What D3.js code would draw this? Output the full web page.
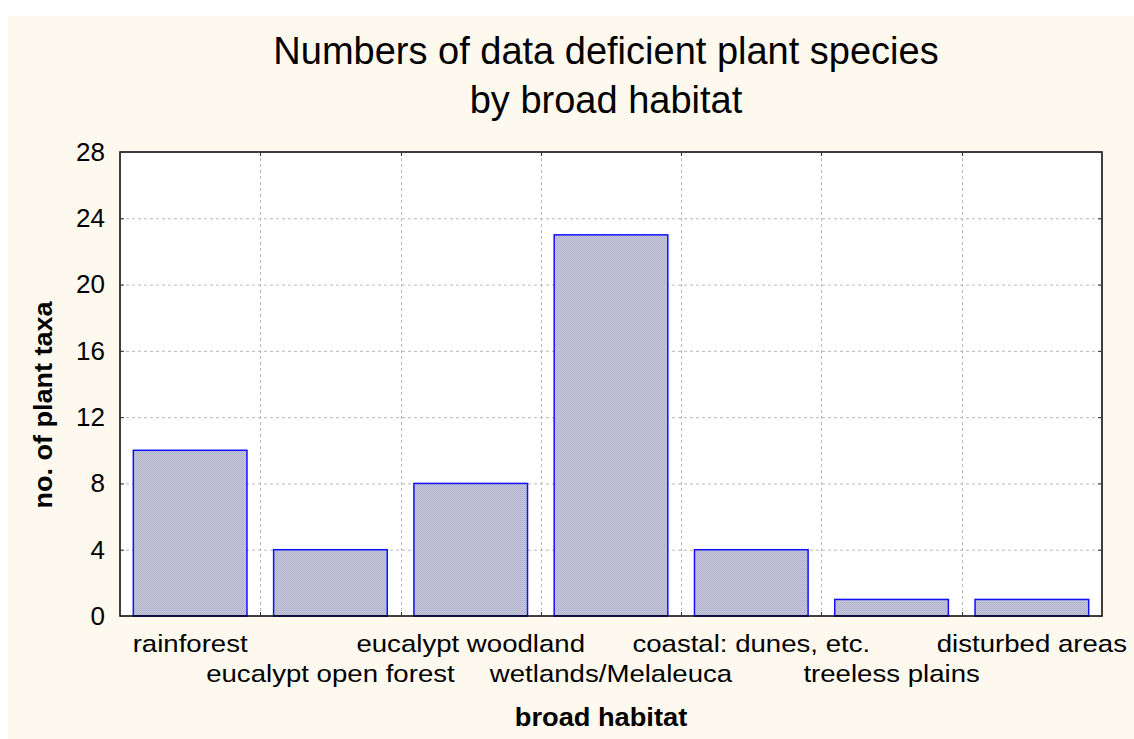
<!DOCTYPE html>
<html><head><meta charset="utf-8">
<script src="https://cdn.jsdelivr.net/npm/d3@7"></script>
<style>body{margin:0;background:#fff}svg{display:block}</style>
</head><body>
<script>
const categories = ["rainforest","eucalypt open forest","eucalypt woodland","wetlands/Melaleuca","coastal: dunes, etc.","treeless plains","disturbed areas"];
const values = [10,4,8,23,4,1,1];
const yTicks = [0,4,8,12,16,20,24,28];
const titleLines = ["Numbers of data deficient plant species","by broad habitat"];
const xTitle = "broad habitat";
const yTitle = "no. of plant taxa";

const W=1134,H=739;
const m={l:120,t:152,r:1102,b:616};
const svg=d3.select("body").append("svg").attr("width",W).attr("height",H);
const defs=svg.append("defs");
const pat=defs.append("pattern").attr("id","dots").attr("width",2).attr("height",2).attr("patternUnits","userSpaceOnUse");
pat.append("rect").attr("width",2).attr("height",2).attr("fill","#c4c4d8");
pat.append("rect").attr("width",1).attr("height",1).attr("fill","#b2b2cc");
pat.append("rect").attr("x",1).attr("y",1).attr("width",1).attr("height",1).attr("fill","#b8b8d0");

svg.append("rect").attr("x",8).attr("y",16).attr("width",W-8).attr("height",H-16).attr("fill","#fdf9ee");
svg.append("rect").attr("x",m.l).attr("y",m.t).attr("width",m.r-m.l).attr("height",m.b-m.t).attr("fill","#fff");

const x=d3.scaleBand().domain(categories).range([m.l,m.r]).paddingInner(0.19).paddingOuter(0.095);
const xb=d3.scaleBand().domain(categories).range([m.l,m.r]);
const y=d3.scaleLinear().domain([0,28]).range([m.b,m.t]);

const font="Arial, 'Liberation Sans', sans-serif";
// grid
const g=svg.append("g");
g.selectAll("line.h").data(yTicks.filter(t=>t>0&&t<28)).join("line")
 .attr("x1",m.l).attr("x2",m.r).attr("y1",d=>y(d)+0.5).attr("y2",d=>y(d)+0.5)
 .attr("stroke","#b8b8b8").attr("stroke-dasharray","3,3");
g.selectAll("line.v").data(categories.slice(1)).join("line")
 .attr("x1",d=>Math.round(xb(d))+0.5).attr("x2",d=>Math.round(xb(d))+0.5).attr("y1",m.t).attr("y2",m.b)
 .attr("stroke","#b8b8b8").attr("stroke-dasharray","3,3");

// bars
svg.selectAll("rect.bar").data(values).join("rect")
 .attr("x",(d,i)=>x(categories[i])).attr("width",x.bandwidth())
 .attr("y",d=>y(d)).attr("height",d=>y(0)-y(d))
 .attr("fill","url(#dots)").attr("stroke","#1010ff").attr("stroke-width",1.5);

// frame
svg.append("rect").attr("x",m.l).attr("y",m.t).attr("width",m.r-m.l).attr("height",m.b-m.t)
 .attr("fill","none").attr("stroke","#000").attr("stroke-width",1.5);

// y axis
const ya=svg.append("g").attr("transform",`translate(${m.l},0)`)
 .call(d3.axisLeft(y).tickValues(yTicks).tickSize(-4).tickPadding(15));
ya.select(".domain").remove();
ya.selectAll("text").attr("font-family",font).attr("font-size",26).attr("fill","#000");
ya.selectAll("line").attr("stroke","#333");
const yr=svg.append("g").attr("transform",`translate(${m.r},0)`)
 .call(d3.axisRight(y).tickValues(yTicks).tickSize(-4).tickFormat(""));
yr.select(".domain").remove(); yr.selectAll("line").attr("stroke","#333");

// x axis boundary ticks
svg.selectAll("line.xt").data(categories.slice(1)).join("line")
 .attr("x1",d=>Math.round(xb(d))+0.5).attr("x2",d=>Math.round(xb(d))+0.5).attr("y1",m.b-4).attr("y2",m.b)
 .attr("stroke","#333");
svg.selectAll("line.xt2").data(categories.slice(1)).join("line")
 .attr("x1",d=>Math.round(xb(d))+0.5).attr("x2",d=>Math.round(xb(d))+0.5).attr("y1",m.t).attr("y2",m.t+4)
 .attr("stroke","#333");

// x labels
svg.selectAll("text.xl").data(categories).join("text")
 .attr("transform",(d,i)=>`translate(${xb(d)+xb.bandwidth()/2},${i%2===0?652:682}) scale(1.15,1)`)
 .attr("text-anchor","middle").attr("font-family",font).attr("font-size",24).text(d=>d);

// titles
svg.selectAll("text.t").data(titleLines).join("text")
 .attr("x",606).attr("y",(d,i)=>64+i*49).attr("text-anchor","middle")
 .attr("font-family",font).attr("font-size",38).text(d=>d);
svg.append("text").attr("transform","translate(601,726) scale(1.09,1)").attr("text-anchor","middle")
 .attr("font-family",font).attr("font-size",25).attr("font-weight","bold").text(xTitle);
svg.append("text").attr("transform",`translate(52,405) rotate(-90) scale(1.08,1)`).attr("text-anchor","middle")
 .attr("font-family",font).attr("font-size",25).attr("font-weight","bold").text(yTitle);
</script>
</body></html>
